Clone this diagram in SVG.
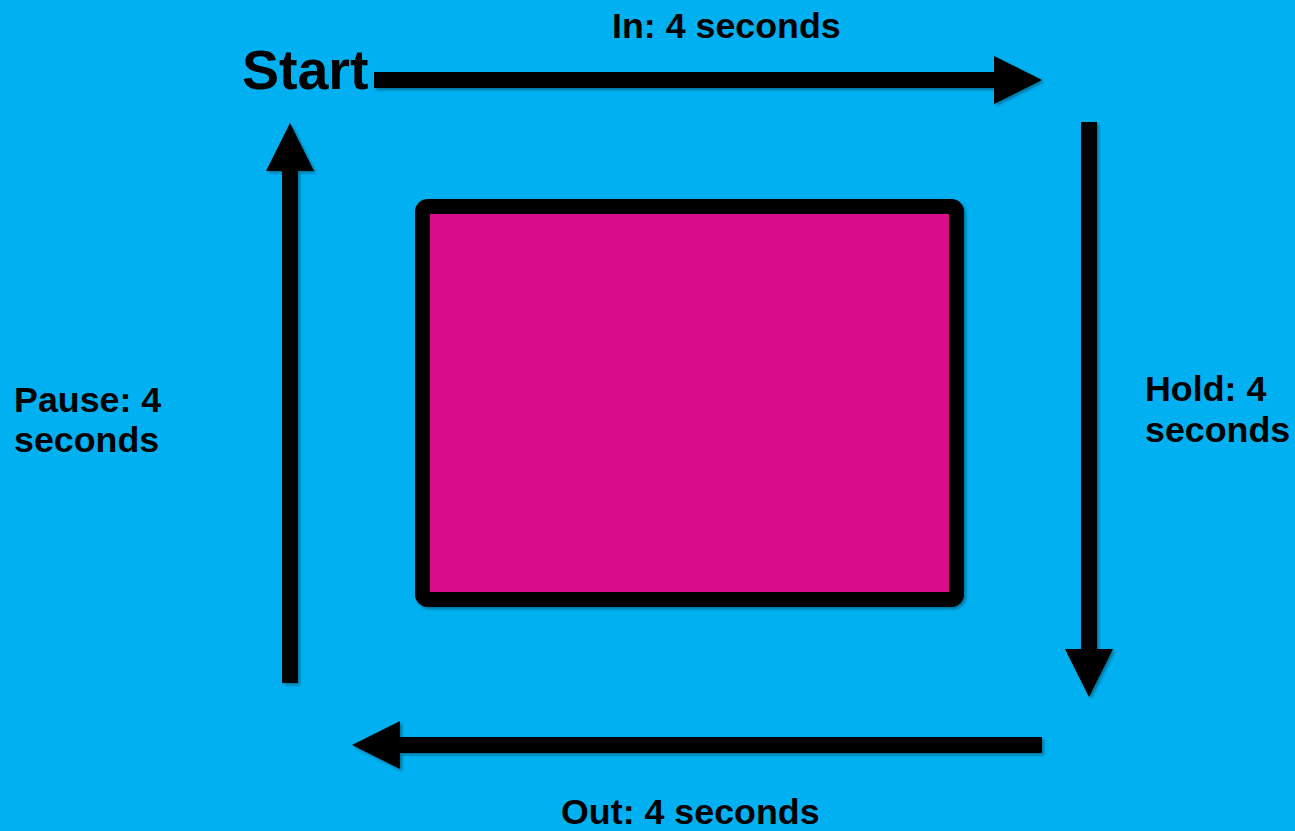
<svg xmlns="http://www.w3.org/2000/svg" width="1295" height="831" viewBox="0 0 1295 831">
<defs>
<style>
.lbl{font-family:"Liberation Sans",Arial,sans-serif;font-weight:bold;fill:#000;font-size:35.8px}
.shaft{stroke:#000;stroke-width:16;fill:none;marker-end:url(#head)}
</style>
<marker id="head" markerUnits="strokeWidth" markerWidth="3" markerHeight="3" viewBox="0 0 3 3" refX="0" refY="1.5" orient="auto" overflow="visible">
<path d="M0,0 L3,1.5 L0,3 Z" fill="#000"/>
</marker>
<filter id="sh" x="-10%" y="-10%" width="120%" height="120%">
<feDropShadow dx="2" dy="2" stdDeviation="1.5" flood-color="#000" flood-opacity="0.35"/>
</filter>
</defs>
<rect width="1295" height="831" fill="#00B0F0"/>
<g id="box" filter="url(#sh)">
<rect x="422.5" y="206.5" width="534" height="393" rx="5" fill="#D90C8C" stroke="#000" stroke-width="15"/>
</g>
<g id="connectors" filter="url(#sh)">
<line class="shaft" x1="374" y1="80" x2="994" y2="80"/>
<line class="shaft" x1="1089" y1="122" x2="1089" y2="649"/>
<line class="shaft" x1="1042" y1="745" x2="400" y2="745"/>
<line class="shaft" x1="290" y1="683" x2="290" y2="171"/>
</g>
<g id="start"><text class="lbl" x="242" y="89" style="font-size:55.5px">Start</text></g>
<g id="in"><text class="lbl" x="612" y="38">In: 4 seconds</text></g>
<g id="hold"><text class="lbl" x="1145" y="401">Hold: 4</text><text class="lbl" x="1145" y="442">seconds</text></g>
<g id="out"><text class="lbl" x="561" y="824">Out: 4 seconds</text></g>
<g id="pause"><text class="lbl" x="14" y="412">Pause: 4</text><text class="lbl" x="14" y="452">seconds</text></g>
</svg>
